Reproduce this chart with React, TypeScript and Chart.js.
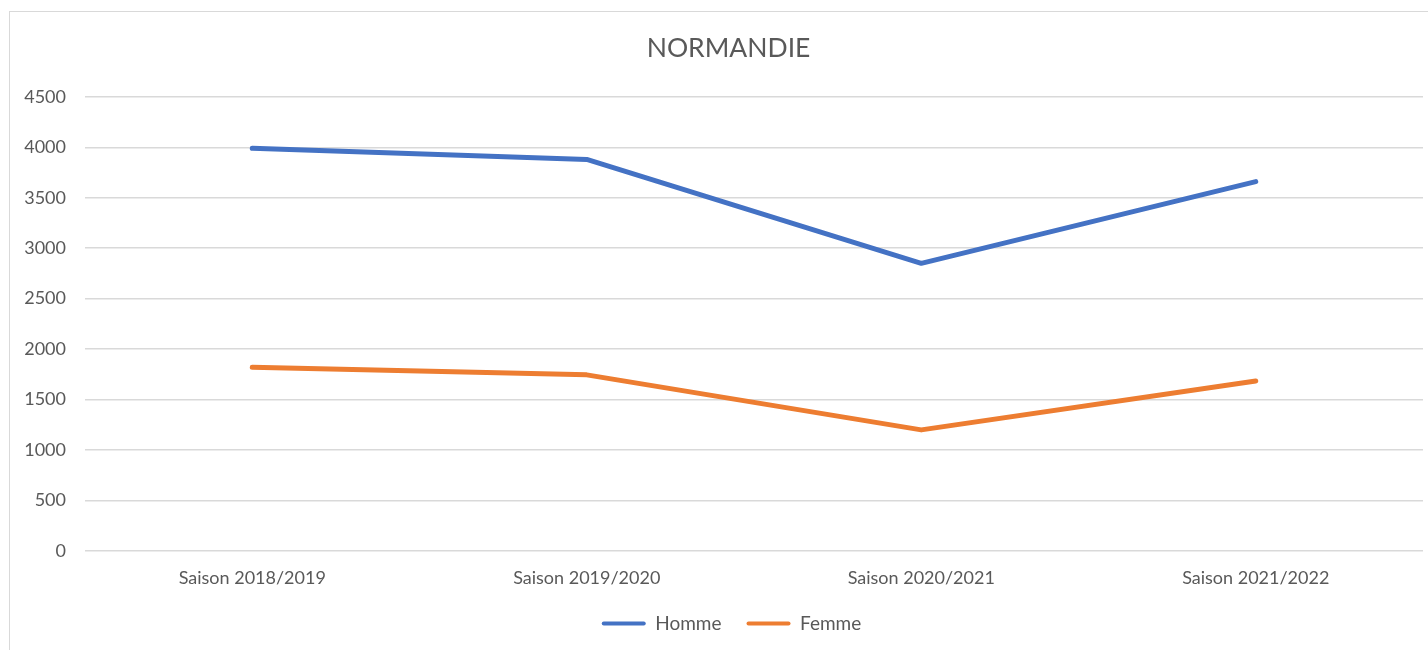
import React, { useEffect, useRef } from "react";
import { Chart, registerables } from "chart.js";

Chart.register(...registerables);

const categories = ["Saison 2018/2019", "Saison 2019/2020", "Saison 2020/2021", "Saison 2021/2022"];
const hommeValues = [3990, 3880, 2850, 3660];
const femmeValues = [1820, 1745, 1200, 1685];
const chartTitle = "NORMANDIE";
const yTicksMax = 4500;
const yTickStep = 500;

const FONT = "Lato, 'Open Sans', sans-serif";
const TEXT = "#595959";
const GRID = "#d9d9d9";

const blockShift = {
  id: "blockShift",
  afterLayout(chart: any) {
    const l = chart.legend;
    if (l) {
      l.left += 15;
      l.right += 15;
    }
    const t = chart.titleBlock;
    if (t) {
      t.left += 12;
      t.right += 12;
    }
  },
};

export default function App() {
  const ref = useRef<HTMLCanvasElement | null>(null);

  useEffect(() => {
    if (!ref.current) return;
    const chart = new Chart(ref.current, {
      type: "line",
      data: {
        labels: categories,
        datasets: [
          {
            label: "Homme",
            data: hommeValues,
            borderColor: "#4472C4",
            backgroundColor: "#4472C4",
            borderWidth: 5,
            pointRadius: 0,
            tension: 0,
            borderCapStyle: "round",
            borderJoinStyle: "round",
          },
          {
            label: "Femme",
            data: femmeValues,
            borderColor: "#ED7D31",
            backgroundColor: "#ED7D31",
            borderWidth: 5,
            pointRadius: 0,
            tension: 0,
            borderCapStyle: "round",
            borderJoinStyle: "round",
          },
        ],
      },
      plugins: [blockShift],
      options: {
        animation: false,
        responsive: true,
        maintainAspectRatio: false,
        layout: { padding: { left: 10, right: 5, top: 0, bottom: 7 } },
        plugins: {
          tooltip: { enabled: false },
          title: {
            display: true,
            text: chartTitle,
            color: TEXT,
            font: { family: FONT, size: 26.5, weight: "normal" },
            padding: { top: 33, bottom: 32 },
          },
          legend: {
            position: "bottom",
            labels: {
              boxWidth: 44,
              boxHeight: 4,
              useBorderRadius: true,
              borderRadius: 2,
              color: TEXT,
              padding: 25,
              font: { family: FONT, size: 19 },
              generateLabels: (c: any) => {
                const base = Chart.defaults.plugins.legend.labels.generateLabels(c);
                return base.map((l: any) => ({ ...l, lineWidth: 0, fontColor: TEXT }));
              },
            },
          },
        },
        scales: {
          y: {
            min: 0,
            max: yTicksMax,
            ticks: {
              stepSize: yTickStep,
              padding: 19,
              color: TEXT,
              font: { family: FONT, size: 18 },
              callback: (v: any) => String(v),
            },
            grid: { color: GRID, drawTicks: false, lineWidth: 1.5 },
            border: { display: false },
            afterFit: (s: any) => {
              s.width = 75;
            },
          },
          x: {
            offset: true,
            ticks: {
              padding: 16,
              color: TEXT,
              font: { family: FONT, size: 18 },
              maxRotation: 0,
            },
            grid: { display: false, drawTicks: false, offset: true },
            border: { display: false },
            afterFit: (s: any) => {
              s.height = 38;
            },
          },
        },
      },
    });
    return () => chart.destroy();
  }, []);

  return (
    <div style={{ position: "fixed", left: 0, top: 0, width: 1428, height: 650, overflow: "hidden", background: "#fff" }}>
      <div
        style={{
          position: "absolute",
          left: 9,
          top: 11,
          width: 1440,
          height: 660,
          border: "1.5px solid #d9d9d9",
          boxSizing: "border-box",
        }}
      />
      <div style={{ position: "absolute", left: 0, top: 0, width: 1428, height: 650 }}>
        <canvas ref={ref} />
      </div>
    </div>
  );
}
